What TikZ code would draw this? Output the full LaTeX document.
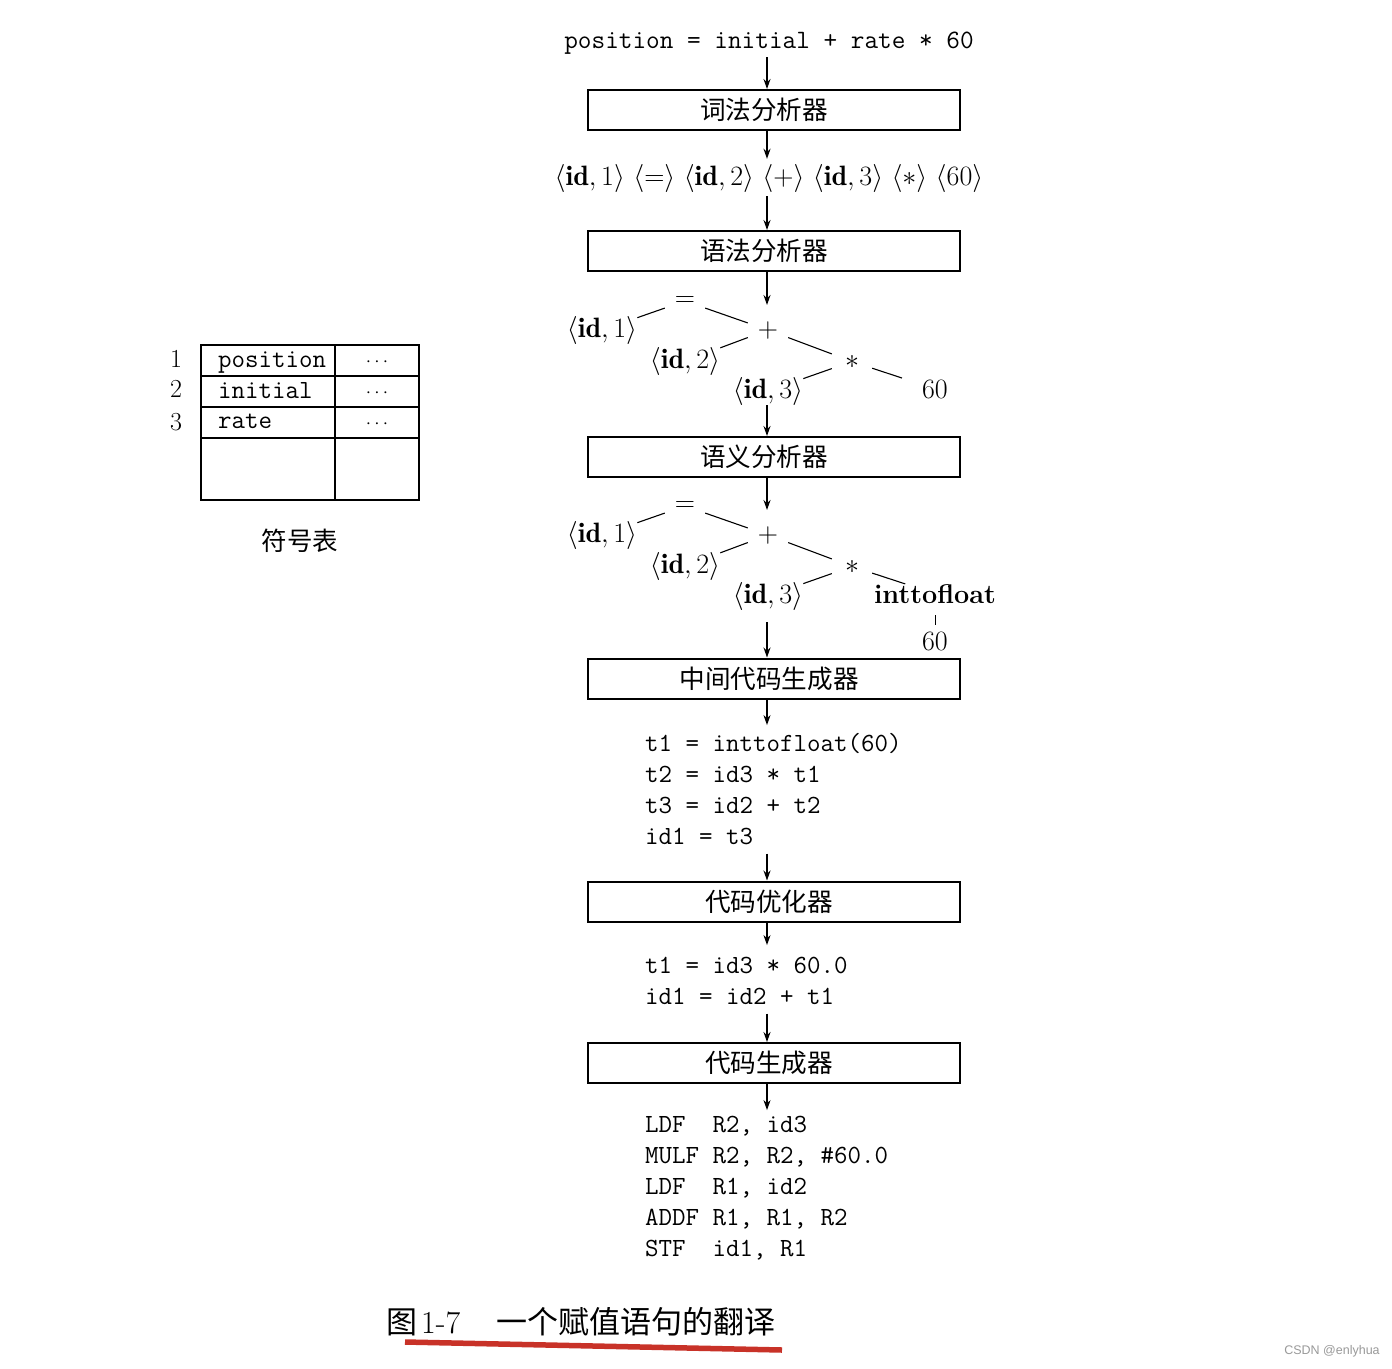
\RequirePackage{fix-cm}
\documentclass[tikz,border=0pt]{standalone}
\usepackage{fontspec}
\newfontfamily\cjk{Noto Sans CJK SC}
\newfontfamily\wmfont{Liberation Sans}
\usetikzlibrary{arrows.meta}
\definecolor{capred}{RGB}{200,50,40}
\begin{document}
\frenchspacing
\begin{tikzpicture}[x=1pt,y=-1pt,
  stage/.style={draw, line width=2pt, minimum width=372pt, minimum height=40pt, inner sep=0pt, font=\fontsize{25.6}{30}\selectfont\cjk},
  arr/.style={line width=1.5pt, -{Stealth[length=10pt,width=7pt]}},
  treeedge/.style={line width=1.1pt},
  codetext/.style={inner sep=0pt, font=\fontsize{26.2}{31}\selectfont\ttfamily},
  mth/.style={inner sep=0pt, font=\fontsize{28}{32}\selectfont},
  op/.style={mth, minimum width=40pt, minimum height=16pt},
  grid/.style={line width=1.5pt}
]
\fill[white] (0,0) rectangle (1392,1368);
\useasboundingbox (0,0) rectangle (1392,1368);
\coordinate (spine) at (767,0);

% source
\node[codetext, anchor=base, font=\fontsize{26.5}{31}\selectfont\ttfamily] (src) at (769,48) {position = initial + rate * 60};

% stage boxes
\node[stage] (box1) at (774,110) {词法分析器\kern20pt};
\node[stage] (box2) at (774,251) {语法分析器\kern20pt};
\node[stage] (box3) at (774,457) {语义分析器\kern20pt};
\node[stage] (box4) at (774,678.5) {中间代码生成器\kern10pt};
\node[stage] (box5) at (774,901.5) {代码优化器\kern10pt};
\node[stage] (box6) at (774,1063) {代码生成器\kern10pt};

% tokens
\node[mth, anchor=base] (tok) at (769,185)
 {$\langle\mathbf{id},1\rangle\ \langle=\rangle\ \langle\mathbf{id},2\rangle\ \langle+\rangle\ \langle\mathbf{id},3\rangle\ \langle*\rangle\ \langle60\rangle$};

% syntax tree
\node[op, anchor=base] (eqA) at (685,306) {$=$};
\node[mth, anchor=base] (idA1) at (602,337) {$\langle\mathbf{id},1\rangle$};
\node[op, anchor=base] (plusA) at (768,337) {$+$};
\node[mth, anchor=base] (idA2) at (685,368) {$\langle\mathbf{id},2\rangle$};
\node[op, anchor=base] (starA) at (852,368) {$*$};
\node[mth, anchor=base] (idA3) at (768,398) {$\langle\mathbf{id},3\rangle$};
\node[mth, anchor=base, inner xsep=20pt, inner ysep=3pt] (sixA) at (935,398) {$60$};
\draw[treeedge] (eqA) -- (idA1);
\draw[treeedge] (eqA) -- (plusA);
\draw[treeedge] (plusA) -- (idA2);
\draw[treeedge] (plusA) -- (starA);
\draw[treeedge] (starA) -- (idA3);
\draw[treeedge] (starA) -- (sixA);

% semantic tree
\node[op, anchor=base] (eqB) at (685,511) {$=$};
\node[mth, anchor=base] (idB1) at (602,542) {$\langle\mathbf{id},1\rangle$};
\node[op, anchor=base] (plusB) at (768,542) {$+$};
\node[mth, anchor=base] (idB2) at (685,573) {$\langle\mathbf{id},2\rangle$};
\node[op, anchor=base] (starB) at (852,573) {$*$};
\node[mth, anchor=base] (idB3) at (768,603) {$\langle\mathbf{id},3\rangle$};
\node[mth, anchor=base, font=\fontsize{27}{31}\selectfont] (itf) at (935,603) {\textbf{inttofloat}};
\node[mth, anchor=base] (sixB) at (935,650) {$60$};
\draw[treeedge] (eqB) -- (idB1);
\draw[treeedge] (eqB) -- (plusB);
\draw[treeedge] (plusB) -- (idB2);
\draw[treeedge] (plusB) -- (starB);
\draw[treeedge] (starB) -- (idB3);
\draw[treeedge] (starB) -- (itf);
\draw[line width=1pt, shorten <=12pt, shorten >=7pt] (itf.south) -- (sixB.north);

% three-address code
\node[codetext, anchor=base west] (tac) at (645,751) {\begin{tabular}[t]{@{}l@{}}
t1 = inttofloat(60)\\
t2 = id3 * t1\\
t3 = id2 + t2\\
id1 = t3
\end{tabular}};
\node[codetext, anchor=base west] (opt) at (645,973) {\begin{tabular}[t]{@{}l@{}}
t1 = id3 * 60.0\\
id1 = id2 + t1
\end{tabular}};
\node[codetext, anchor=base west] (asm) at (645,1132) {\begin{tabular}[t]{@{}l@{}}
LDF\ \ R2, id3\\
MULF R2, R2, \#60.0\\
LDF\ \ R1, id2\\
ADDF R1, R1, R2\\
STF\ \ id1, R1
\end{tabular}};

% free ends
\coordinate (t1top) at (767,305);
\coordinate (t2top) at (767,510);
\coordinate (t2bot) at (767,622);

% arrows
\draw[arr, shorten <=3pt] (src.south -| spine) -- (box1.north -| spine);
\draw[arr, shorten >=5pt] (box1.south -| spine) -- (tok.north -| spine);
\draw[arr, shorten <=4pt] (tok.south -| spine) -- (box2.north -| spine);
\draw[arr] (box2.south -| spine) -- (t1top);
\draw[arr] (idA3.south -| spine) -- (box3.north -| spine);
\draw[arr] (box3.south -| spine) -- (t2top);
\draw[arr] (t2bot) -- (box4.north -| spine);
\draw[arr, shorten >=4pt] (box4.south -| spine) -- (tac.north -| spine);
\draw[arr] (tac.south -| spine) -- (box5.north -| spine);
\draw[arr, shorten >=6pt] (box5.south -| spine) -- (opt.north -| spine);
\draw[arr] (opt.south -| spine) -- (box6.north -| spine);
\draw[arr] (box6.south -| spine) -- (asm.north -| spine);

% symbol table
\draw[grid] (201,345) rectangle (419,500);
\draw[grid] (201,376) -- (419,376);
\draw[grid] (201,407) -- (419,407);
\draw[grid] (201,438) -- (419,438);
\draw[grid] (335,345) -- (335,500);
\node[codetext, anchor=base west] (s1) at (218,367) {position};
\node[codetext, anchor=base west] (s2) at (218,398) {initial};
\node[codetext, anchor=base west] (s3) at (218,428) {rate};
\node[mth, anchor=base, font=\fontsize{19}{22}\selectfont] (d1) at (377,366) {$\cdots$};
\node[mth, anchor=base, font=\fontsize{19}{22}\selectfont] (d2) at (377,397) {$\cdots$};
\node[mth, anchor=base, font=\fontsize{19}{22}\selectfont] (d3) at (377,428) {$\cdots$};
\node[mth, anchor=base, font=\fontsize{26}{30}\selectfont] (n1) at (176,367) {1};
\node[mth, anchor=base, font=\fontsize{26}{30}\selectfont] (n2) at (176,397) {2};
\node[mth, anchor=base, font=\fontsize{26}{30}\selectfont] (n3) at (176,430) {3};
\node[font=\fontsize{25.5}{30}\selectfont\cjk] (symlabel) at (300,541) {符号表};

% caption
\node[anchor=base west, inner sep=0pt, font=\fontsize{31}{36}\selectfont\cjk] (cap) at (386,1333)
 {图\hspace{4pt}{\rmfamily\fontsize{32}{36}\selectfont 1-7}\hspace{36pt}一个赋值语句的翻译};
\draw[line width=5.5pt, capred] (405,1342) -- (782,1350);

% watermark
\node[font=\fontsize{12.5}{14}\selectfont\wmfont, text=gray!80] (wm) at (1332,1351) {CSDN @enlyhua};
\end{tikzpicture}
\end{document}
